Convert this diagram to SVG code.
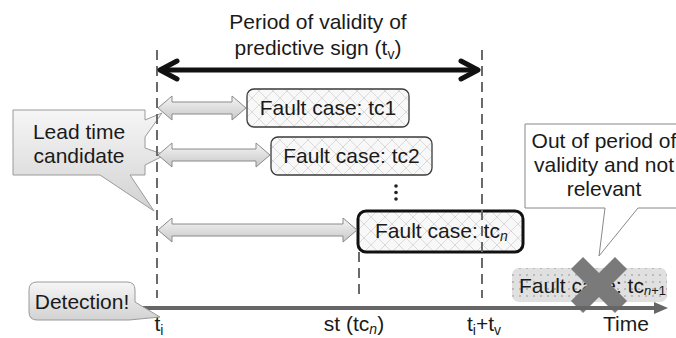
<svg xmlns="http://www.w3.org/2000/svg" width="676" height="338" viewBox="0 0 676 338">
<defs>
<style>
.t{font-family:"Liberation Sans",Arial,sans-serif;font-size:21px;fill:#1a1a1a}
.m{text-anchor:middle}
.sub{font-size:14px}
.it{font-style:italic}
.dash{stroke:#6a6a6a;stroke-width:2;stroke-dasharray:10 6;fill:none}
.dbl{fill:url(#grayGrad);stroke:#8a8a8a;stroke-width:1}
.box{fill:url(#hatch);stroke:#3a3a3a;stroke-width:1.3}
.call{fill:url(#callGrad);stroke:#9a9a9a;stroke-width:1}
</style>
<pattern id="hatch" width="14" height="14" patternUnits="userSpaceOnUse">
<rect width="14" height="14" fill="#f8f8f8"/>
<path d="M0,0 L14,14 M14,0 L0,14" stroke="#dadada" stroke-width="1"/>
</pattern>
<pattern id="dots" width="7" height="7" patternUnits="userSpaceOnUse">
<rect width="7" height="7" fill="#e0e0e0"/>
<circle cx="2" cy="2" r="0.8" fill="#8a8a8a"/>
</pattern>
<linearGradient id="grayGrad" x1="0" y1="0" x2="0" y2="1">
<stop offset="0" stop-color="#f5f5f5"/><stop offset="1" stop-color="#c8c8c8"/>
</linearGradient>
<linearGradient id="callGrad" x1="0" y1="0" x2="0" y2="1">
<stop offset="0" stop-color="#f6f6f6"/><stop offset="1" stop-color="#d2d2d2"/>
</linearGradient>
</defs>
<rect width="676" height="338" fill="#ffffff"/>

<g id="title">
<text class="t m" x="318" y="29">Period of validity of</text>
<text class="t m" x="318" y="55">predictive sign (t<tspan class="sub" dy="4">v</tspan><tspan dy="-4">)</tspan></text>
</g>

<g id="lead-time-callout">
<path class="call" d="M13,110 H145 V120 L162,113 L145,137 V148 L165,155 L145,165 V175 H130 L154,211 L100,175 H13 Z"/>
<text class="t m" x="79" y="139">Lead time</text>
<text class="t m" x="79" y="163">candidate</text>
</g>

<g id="tc1">
<rect class="box" x="247" y="89" width="162" height="38" rx="7"/>
<text class="t m" x="328" y="115">Fault case: tc1</text>
</g>

<g id="tc2">
<rect class="box" x="271" y="137" width="161" height="38" rx="7"/>
<text class="t m" x="351.5" y="163">Fault case: tc2</text>
</g>

<g id="ellipsis">
<circle cx="396" cy="186" r="1.8" fill="#222"/>
<circle cx="396" cy="192.5" r="1.8" fill="#222"/>
<circle cx="396" cy="199" r="1.8" fill="#222"/>
</g>

<g id="tcn">
<rect x="358" y="211" width="165" height="41" rx="8" fill="url(#hatch)" stroke="#111" stroke-width="3"/>
<text class="t" x="375" y="238">Fault case: tc<tspan class="sub it" dy="3">n</tspan></text>
</g>

<g id="tcn1">
<rect x="512" y="268" width="155" height="34" rx="7" fill="url(#dots)"/>
<text class="t" x="519" y="293" fill="#333">Fault case: tc<tspan font-size="13" dy="2"><tspan class="it">n</tspan>+1</tspan></text>
</g>

<g id="out-callout">
<path d="M525,124 H680 V208 H638 L599,256 L605,208 H525 Z" fill="#fff" stroke="#888" stroke-width="1"/>
<text class="t m" x="604" y="148">Out of period of</text>
<text class="t m" x="604" y="172">validity and not</text>
<text class="t m" x="604" y="196">relevant</text>
</g>

<g id="cross">
<path d="M577,263 L621,307 M621,263 L577,307" stroke="#7a7a7a" stroke-width="17" fill="none"/>
</g>

<g id="connectors">
<line class="dash" x1="157" y1="50" x2="157" y2="298"/>
<line class="dash" x1="482" y1="50" x2="482" y2="298"/>
<line class="dash" x1="359" y1="252" x2="359" y2="298"/>
<line x1="163" y1="70" x2="475" y2="70" stroke="#111" stroke-width="5"/>
<polyline points="177,61 160,70 177,79" fill="none" stroke="#111" stroke-width="5" stroke-linejoin="round" stroke-linecap="round"/>
<polyline points="461,61 478,70 461,79" fill="none" stroke="#111" stroke-width="5" stroke-linejoin="round" stroke-linecap="round"/>
<path class="dbl" d="M158,108 L172,96 L172,102 L232,102 L232,96 L246,108 L232,120 L232,114 L172,114 L172,120 Z"/>
<path class="dbl" d="M158,155 L172,143 L172,149 L256,149 L256,143 L270,155 L256,167 L256,161 L172,161 L172,167 Z"/>
<path class="dbl" d="M158,230 L172,218 L172,224 L343,224 L343,218 L357,230 L343,242 L343,236 L172,236 L172,242 Z"/>
<line x1="140" y1="308" x2="656" y2="308" stroke="#666" stroke-width="4"/>
<path d="M668,308 L654,302 L654,314 Z" fill="#666"/>
</g>

<g id="detection">
<path class="call" d="M37,282 H127 Q135,282 135,290 V302 L160,317 L129,320 H37 Q29,320 29,312 V290 Q29,282 37,282 Z"/>
<text class="t m" x="82" y="309">Detection!</text>
</g>

<g id="axis-labels">
<text class="t m" x="159" y="331">t<tspan class="sub" dy="4">i</tspan></text>
<text class="t m" x="354" y="331">st (tc<tspan class="sub it" dy="3">n</tspan><tspan dy="-3">)</tspan></text>
<text class="t m" x="484" y="331">t<tspan class="sub" dy="4">i</tspan><tspan dy="-4">+t</tspan><tspan class="sub" dy="4">v</tspan></text>
<text class="t m" x="626" y="331">Time</text>
</g>
</svg>
